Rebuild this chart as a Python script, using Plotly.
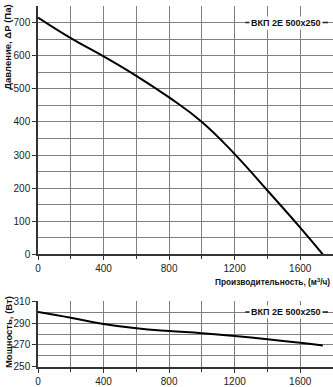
import plotly.graph_objects as go

flow = [0, 200, 400, 600, 800, 1000, 1200, 1400, 1600, 1738]
pressure = [715, 653, 598, 539, 474, 400, 303, 193, 81, 0]
power = [300, 294.8, 289.2, 285.2, 282.7, 280.8, 278.2, 275.2, 272.0, 269.5]
label = "ВКП 2Е 500x250"
x_title = "Производительность, (м<sup>3</sup>/ч)"
y1_title = "Давление, ΔР (Па)"
y2_title = "Мощность, (Вт)"

fig = go.Figure()
fig.add_trace(go.Scatter(x=flow, y=pressure, mode="lines",
                         line=dict(color="black", width=2, shape="spline", smoothing=1.3),
                         xaxis="x", yaxis="y", showlegend=False))
fig.add_trace(go.Scatter(x=flow, y=power, mode="lines",
                         line=dict(color="black", width=2, shape="spline", smoothing=1.3),
                         xaxis="x2", yaxis="y2", showlegend=False))

grid = "#808080"
axis_common = dict(showgrid=True, gridcolor=grid, gridwidth=1, showline=True, linecolor="#333",
                   linewidth=1.5, ticks="outside", ticklen=4, tickcolor="#333", zeroline=False,
                   tickfont=dict(family="Liberation Sans, Arial", size=10, color="#222"))

fig.update_layout(
    width=333, height=387, margin=dict(l=38, r=0, t=0, b=15),
    plot_bgcolor="white", paper_bgcolor="white",
    xaxis=dict(domain=[0, 1], range=[0, 1800], dtick=400, anchor="y",
               minor=dict(dtick=200, showgrid=True, gridcolor=grid, ticks="outside", ticklen=3, tickcolor="#333"),
               **axis_common),
    yaxis=dict(domain=[0.3118, 1], range=[0, 750], dtick=100,
               minor=dict(dtick=50, showgrid=True, gridcolor=grid), **axis_common),
    xaxis2=dict(domain=[0, 1], range=[0, 1800], dtick=400, anchor="y2",
                minor=dict(dtick=200, showgrid=True, gridcolor=grid, ticks="outside", ticklen=3, tickcolor="#333"),
                **axis_common),
    yaxis2=dict(domain=[0, 0.1828], range=[250, 310], tick0=250, dtick=20,
                minor=dict(tick0=250, dtick=10, showgrid=True, gridcolor=grid), **axis_common),
)

fam = "Liberation Sans, Arial"
# legend-like labels with line sample
for xa, ya, yv in [("x", "y", 700), ("x2", "y2", 300)]:
    fig.add_shape(type="line", xref=xa, yref=ya, x0=1265, x1=1770, y0=yv, y1=yv,
                  line=dict(color="#222", width=1.5))
    fig.add_annotation(x=1515, y=yv, xref=xa, yref=ya, text=f"<b>{label}</b>", showarrow=False,
                       bgcolor="white", font=dict(family=fam, size=9, color="#111"), borderpad=1)

fig.add_annotation(x=0.997, y=(372 - 284) / 372, xref="paper", yref="paper", text=f"<b>{x_title}</b>",
                   showarrow=False, xanchor="right", yanchor="middle",
                   font=dict(family=fam, size=8.3, color="#111"))

tfont = dict(family=fam, size=9.5, color="#111")
fig.add_annotation(x=-30/295, y=(372 - 43) / 372, xref="paper", yref="paper", text=f"<b>{y1_title}</b>",
                   showarrow=False, textangle=-90, font=tfont, xanchor="center", yanchor="middle")
fig.add_annotation(x=-30/295, y=(372 - 336) / 372, xref="paper", yref="paper", text=f"<b>{y2_title}</b>",
                   showarrow=False, textangle=-90, font=tfont, xanchor="center", yanchor="middle")

fig.write_html("out.html")
